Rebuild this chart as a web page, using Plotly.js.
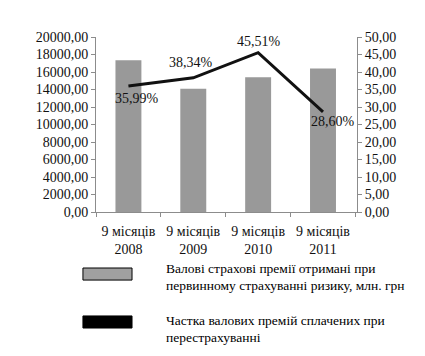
<!DOCTYPE html>
<html>
<head>
<meta charset="utf-8">
<script src="https://cdn.plot.ly/plotly-3.0.1.min.js"></script>
<style>html,body{margin:0;padding:0;background:#fff}#chart{width:425px;height:356px}</style>
</head>
<body>
<div id="chart"></div>
<script>
const categories = ["9 місяців<br>2008", "9 місяців<br>2009", "9 місяців<br>2010", "9 місяців<br>2011"];
const premiums = [17350, 14100, 15400, 16400];
const shares = [35.99, 38.34, 45.51, 28.60];
const shareLabels = ["35,99%", "38,34%", "45,51%", "28,60%"];
const legendNames = [
  "Валові страхові премії отримані при<br>первинному страхуванні ризику, млн. грн",
  "Частка валових премій сплачених при<br>перестрахуванні"
];

const serif = "Liberation Serif";
const axisColor = "#8c8c8c";

const traces = [
  {
    type: "bar", x: categories, y: premiums, name: legendNames[0],
    marker: {color: "#999999"}, yaxis: "y", hoverinfo: "skip"
  },
  {
    type: "scatter", mode: "lines", x: categories, y: shares, name: legendNames[1],
    line: {color: "#111111", width: 3}, yaxis: "y2", hoverinfo: "skip"
  }
];

const labelOffsets = [[9, 12], [-2, -15], [1, -11], [10, 10]];
const annotations = shares.map((v, i) => ({
  x: categories[i], y: v, xref: "x", yref: "y2", text: shareLabels[i],
  showarrow: false, xshift: labelOffsets[i][0], yshift: -labelOffsets[i][1],
  font: {family: serif, size: 14, color: "#111"}
}));

// legend text, one annotation per line
const legendLineY = [[-0.323, -0.418], [-0.621, -0.716]];
legendNames.forEach((name, i) => {
  name.split("<br>").forEach((line, j) => {
    annotations.push({
      xref: "paper", yref: "paper", x: 0.262, y: legendLineY[i][j],
      xanchor: "left", yanchor: "middle", text: line, align: "left", showarrow: false,
      font: {family: serif, size: 13.5, color: "#000"}
    });
  });
});

const layout = {
  width: 425, height: 356,
  margin: {l: 96, r: 68, t: 37, b: 144},
  paper_bgcolor: "#fff", plot_bgcolor: "#fff",
  separators: ", ",
  showlegend: false,
  bargap: 0.6,
  font: {family: serif, size: 14, color: "#111"},
  xaxis: {
    showgrid: false, showline: true, linecolor: axisColor, linewidth: 1,
    ticks: "outside", tickson: "boundaries", ticklen: 4, tickcolor: axisColor,
    ticklabelstandoff: 6,
    tickfont: {family: serif, size: 14, color: "#111"}, fixedrange: true
  },
  yaxis: {
    range: [0, 20000], dtick: 2000, tickformat: ".2f",
    showgrid: false, zeroline: false, showline: true, linecolor: axisColor,
    ticks: "outside", ticklen: 4, tickcolor: axisColor,
    tickfont: {family: serif, size: 14, color: "#111"}, fixedrange: true
  },
  yaxis2: {
    range: [0, 50], dtick: 5, tickformat: ".2f", overlaying: "y", side: "right",
    showgrid: false, zeroline: false, showline: true, linecolor: axisColor,
    ticks: "outside", ticklen: 4, tickcolor: axisColor,
    tickfont: {family: serif, size: 14, color: "#111"}, fixedrange: true
  },
  annotations: annotations,
  shapes: [
    {type: "rect", xref: "paper", yref: "paper", x0: -0.05, x1: 0.138, y0: -0.389, y1: -0.32,
     fillcolor: "#a0a0a0", line: {color: "#000", width: 1}},
    {type: "rect", xref: "paper", yref: "paper", x0: -0.05, x1: 0.138, y0: -0.663, y1: -0.594,
     fillcolor: "#000", line: {color: "#000", width: 1}}
  ]
};

Plotly.newPlot("chart", traces, layout, {staticPlot: true, displayModeBar: false});
</script>
</body>
</html>
